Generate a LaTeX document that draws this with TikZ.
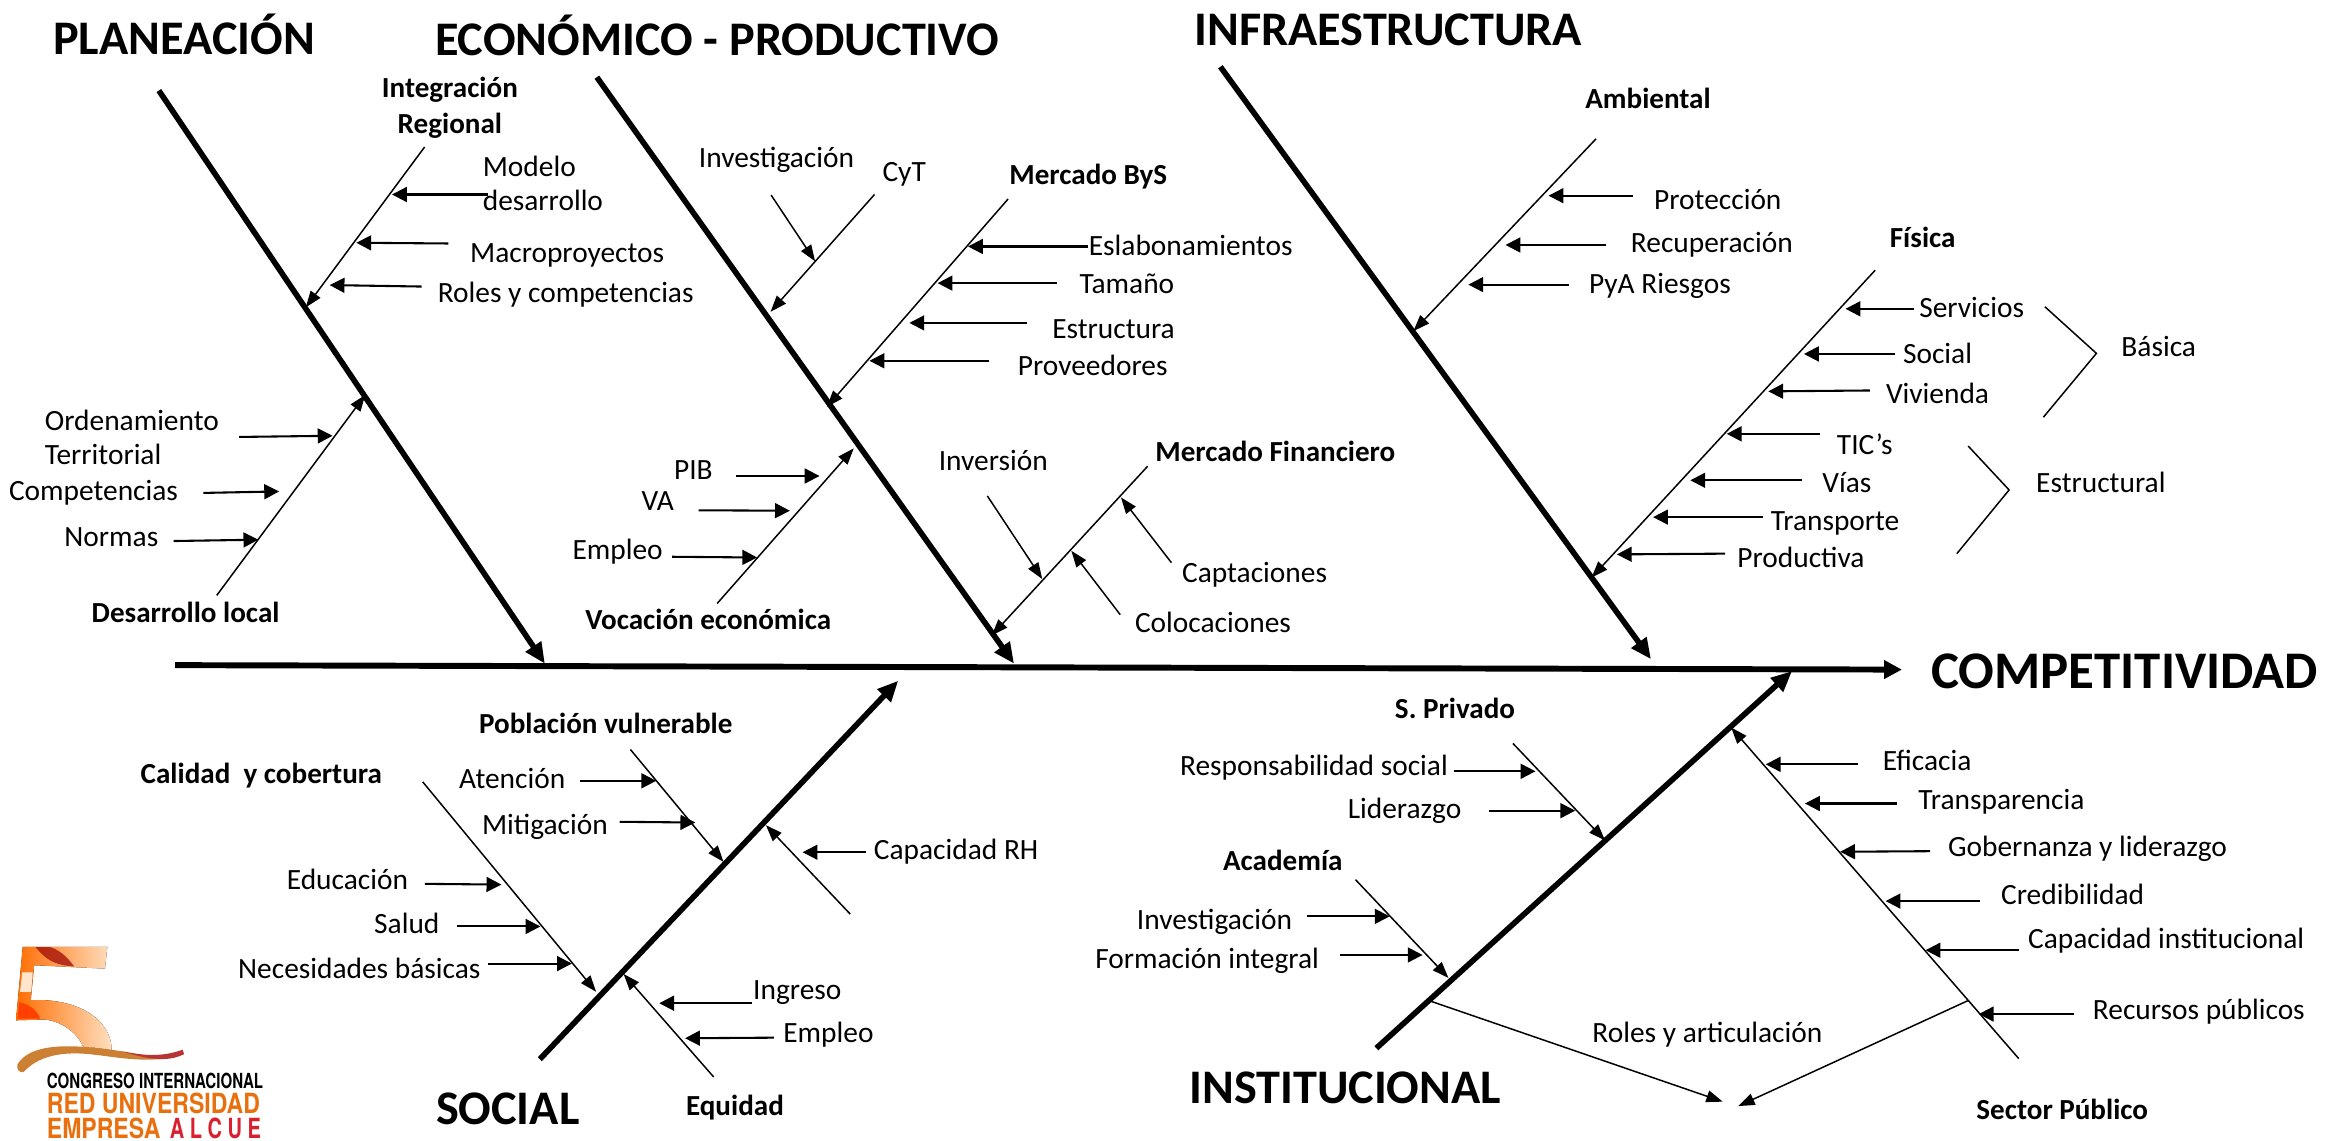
\documentclass[tikz,border=0pt]{standalone}
\usepackage{fontspec}
\setmainfont{Carlito}
\newfontfamily\logofont{TeX Gyre Heros}
\usetikzlibrary{arrows.meta}
\tikzset{
  lbl/.style={inner sep=0pt,text height=16pt,text depth=4pt,font=\fontsize{19.8}{22}\selectfont},
  lblb/.style={lbl,font=\fontsize{19.6}{22}\selectfont\bfseries},
  ttl/.style={inner sep=0pt,text height=22pt,text depth=1pt,font=\fontsize{32.5}{34}\selectfont\bfseries},
  spine/.style={line width=4pt,-{Triangle[length=12pt,width=12pt]}},
  bone/.style={line width=3.8pt,-{Triangle[length=14pt,width=12pt]}},
  rib/.style={line width=1pt,-{Triangle[length=11pt,width=8pt]}},
  twig/.style={line width=1.4pt,-{Triangle[length=10pt,width=10pt]}},
  plain/.style={line width=1pt},
}
\definecolor{logoorange}{HTML}{E8700E}
\definecolor{logored}{HTML}{D9202E}
\begin{document}
\begin{tikzpicture}[x=1pt,y=-1pt]
  \useasboundingbox (0,0) rectangle (1568,768);

  %%Spine
  \node[ttl,font=\fontsize{35.6}{38}\selectfont\bfseries](compet) at (1431,453){COMPETITIVIDAD};
  \path (118,448) coordinate (tail) (1281,451) coordinate (head);
  \draw[spine](tail) to (head);

  %%Planeacion
  \node[ttl](planea) at (124,26){PLANEACIÓN};
  \path (107,61) coordinate (planeA) (367,447) coordinate (planeB);
  \draw[bone](planeA) to (planeB);
  \node[lblb](integ) at (303,60){Integración};
  \node[lblb](regional) at (303,84){Regional};
  \path (286,99) coordinate (integA) (206,207) coordinate (integB);
  \draw[rib](integA) to (integB);
    \node[lbl,anchor=west](modelo) at (325,113){Modelo};
    \node[lbl,anchor=west](desarr) at (325,136){desarrollo};
    \path (329,131) coordinate (modeloA) (264,131) coordinate (modeloB);
    \draw[twig](modeloA) to (modeloB);
    \node[lbl](macro) at (382,171){Macroproyectos};
    \path (302,164) coordinate (macroA) (240,163.5) coordinate (macroB);
    \draw[twig](macroA) to (macroB);
    \node[lbl](roles) at (381,198){Roles y competencias};
    \path (284,193) coordinate (rolesA) (222,192) coordinate (rolesB);
    \draw[twig](rolesA) to (rolesB);
  \node[lblb](dlocal) at (125,413){Desarrollo local};
  \path (146,401) coordinate (dlocalA) (246,266) coordinate (dlocalB);
  \draw[rib](dlocalA) to (dlocalB);
    \node[lbl,anchor=west](orden) at (30,284){Ordenamiento};
    \node[lbl,anchor=west](territ) at (30,307){Territorial};
    \path (161,294.3) coordinate (ordenA) (224,293.5) coordinate (ordenB);
    \draw[twig](ordenA) to (ordenB);
    \node[lbl](compt) at (63,331){Competencias};
    \path (137,332) coordinate (comptA) (188,331) coordinate (comptB);
    \draw[twig](comptA) to (comptB);
    \node[lbl](normas) at (75,362){Normas};
    \path (117,364.4) coordinate (normasA) (174,363.5) coordinate (normasB);
    \draw[twig](normasA) to (normasB);

  %%Economico
  \node[ttl](econ) at (483,27){ECONÓMICO - PRODUCTIVO};
  \path (402,52) coordinate (econA) (683,447) coordinate (econB);
  \draw[bone](econA) to (econB);
  \node[lbl](cyt) at (609,116){CyT};
  \path (589,131) coordinate (cytA) (519,210) coordinate (cytB);
  \draw[rib](cytA) to (cytB);
    \node[lbl](invest) at (523,107){Investigación};
    \path (519.4,131.4) coordinate (investA) (549,176) coordinate (investB);
    \draw[rib](investA) to (investB);
  \node[lblb](byS) at (733,118){Mercado ByS};
  \path (679,134) coordinate (bySA) (557,274) coordinate (bySB);
  \draw[rib](bySA) to (bySB);
    \node[lbl](eslab) at (802,166){Eslabonamientos};
    \path (733,166) coordinate (eslabA) (652,166) coordinate (eslabB);
    \draw[twig](eslabA) to (eslabB);
    \node[lbl](tamano) at (759,192){Tamaño};
    \path (712,190.7) coordinate (tamanoA) (631.5,190.7) coordinate (tamanoB);
    \draw[twig](tamanoA) to (tamanoB);
    \node[lbl](estruc) at (750,222){Estructura};
    \path (692,217.5) coordinate (estrucA) (612.5,217.5) coordinate (estrucB);
    \draw[twig](estrucA) to (estrucB);
    \node[lbl](provee) at (736,247){Proveedores};
    \path (666,243) coordinate (proveeA) (585.6,243) coordinate (proveeB);
    \draw[twig](proveeA) to (proveeB);
  \node[lblb](vocac) at (477,418){Vocación económica};
  \path (483,406.5) coordinate (vocacA) (575,302) coordinate (vocacB);
  \draw[rib](vocacA) to (vocacB);
    \node[lbl](pib) at (467,317){PIB};
    \path (496,320.6) coordinate (pibA) (552,320.6) coordinate (pibB);
    \draw[twig](pibA) to (pibB);
    \node[lbl](va) at (443,338){VA};
    \path (470.6,343.7) coordinate (vaA) (532,344) coordinate (vaB);
    \draw[twig](vaA) to (vaB);
    \node[lbl](empleoA) at (416,371){Empleo};
    \path (452.7,375) coordinate (emplA) (510,375.5) coordinate (emplB);
    \draw[twig](emplA) to (emplB);
  \node[lblb](finan) at (859,305){Mercado Financiero};
  \path (773,314) coordinate (finanA) (668,428) coordinate (finanB);
  \draw[rib](finanA) to (finanB);
    \node[lbl](inver) at (669,311){Inversión};
    \path (665,334) coordinate (inverA) (702,390) coordinate (inverB);
    \draw[rib](inverA) to (inverB);
    \node[lbl](capta) at (845,386){Captaciones};
    \path (789,379) coordinate (captaA) (755,335) coordinate (captaB);
    \draw[rib](captaA) to (captaB);
    \node[lbl](coloc) at (817,420){Colocaciones};
    \path (754.5,414) coordinate (colocA) (721.6,371) coordinate (colocB);
    \draw[rib](colocA) to (colocB);

  %%Infraestructura
  \node[ttl](infra) at (935,20){INFRAESTRUCTURA};
  \path (822,45) coordinate (infraA) (1112,444) coordinate (infraB);
  \draw[bone](infraA) to (infraB);
  \node[lblb](ambie) at (1110,67){Ambiental};
  \path (1075,93.5) coordinate (ambieA) (952,223) coordinate (ambieB);
  \draw[rib](ambieA) to (ambieB);
    \node[lbl](protec) at (1157,135){Protección};
    \path (1100,131.8) coordinate (protecA) (1043,131.8) coordinate (protecB);
    \draw[twig](protecA) to (protecB);
    \node[lbl](recup) at (1153,164){Recuperación};
    \path (1082,165) coordinate (recupA) (1014,165) coordinate (recupB);
    \draw[twig](recupA) to (recupB);
    \node[lbl](riesg) at (1118,192){PyA Riesgos};
    \path (1056.7,191.7) coordinate (riesgA) (989,191.7) coordinate (riesgB);
    \draw[twig](riesgA) to (riesgB);
  \node[lblb](fisica) at (1295,161){Física};
  \path (1263,182) coordinate (fisicaA) (1072,389) coordinate (fisicaB);
  \draw[rib](fisicaA) to (fisicaB);
    \node[lbl](servic) at (1328,208){Servicios};
    \path (1289,208) coordinate (servicA) (1243,208) coordinate (servicB);
    \draw[twig](servicA) to (servicB);
    \node[lbl](social) at (1305,239){Social};
    \path (1276.5,238.4) coordinate (socialA) (1215,238.4) coordinate (socialB);
    \draw[twig](socialA) to (socialB);
    \node[lbl](vivie) at (1305,266){Vivienda};
    \path (1259.4,263) coordinate (vivieA) (1191,263.6) coordinate (vivieB);
    \draw[twig](vivieA) to (vivieB);
    \node[lbl](tics) at (1256,300){TIC’s};
    \path (1225.8,292.2) coordinate (ticsA) (1163,292.2) coordinate (ticsB);
    \draw[twig](ticsA) to (ticsB);
    \node[lbl](vias) at (1244,326){Vías};
    \path (1213.8,323.5) coordinate (viasA) (1138.5,323.5) coordinate (viasB);
    \draw[twig](viasA) to (viasB);
    \node[lbl](transp) at (1236,351){Transporte};
    \path (1187.7,348.3) coordinate (transpA) (1113.4,348.3) coordinate (transpB);
    \draw[twig](transpA) to (transpB);
    \node[lbl](produc) at (1213,376){Productiva};
    \path (1162,372.9) coordinate (producA) (1089,373.4) coordinate (producB);
    \draw[twig](producA) to (producB);
    \node[lbl](basica) at (1454,234){Básica};
    \path (1377.3,206.6) coordinate (basicaA) (1412,238) coordinate (basicaB) (1376.3,281) coordinate (basicaC);
    \draw[plain](basicaA) to (basicaB) to (basicaC);
    \node[lbl](estrl) at (1415,326){Estructural};
    \path (1325.6,300.4) coordinate (estrlA) (1353.2,330) coordinate (estrlB) (1318,372.9) coordinate (estrlC);
    \draw[plain](estrlA) to (estrlB) to (estrlC);

  %%Social
  \node[ttl](socl) at (342,747){SOCIAL};
  \path (363.6,713.4) coordinate (soclA) (605,458.5) coordinate (soclB);
  \draw[bone](soclA) to (soclB);
  \node[lblb](pobla) at (408,488){Población vulnerable};
  \path (424.6,504.8) coordinate (poblaA) (487.3,580.5) coordinate (poblaB);
  \draw[rib](poblaA) to (poblaB);
    \node[lbl](atenc) at (345,525){Atención};
    \path (390.6,525.9) coordinate (atencA) (442,525.9) coordinate (atencB);
    \draw[twig](atencA) to (atencB);
    \node[lbl](mitig) at (367,556){Mitigación};
    \path (417.3,553.5) coordinate (mitigA) (468.3,554) coordinate (mitigB);
    \draw[twig](mitigA) to (mitigB);
  \node[lblb](calid) at (176,522){Calidad\ \ y cobertura};
  \path (284.7,526.6) coordinate (calidA) (401.5,668) coordinate (calidB);
  \draw[rib](calidA) to (calidB);
    \node[lbl](educa) at (234,593){Educación};
    \path (286.2,595.3) coordinate (educaA) (337.7,595.8) coordinate (educaB);
    \draw[twig](educaA) to (educaB);
    \node[lbl](salud) at (274,623){Salud};
    \path (307.9,624) coordinate (saludA) (364,624) coordinate (saludB);
    \draw[twig](saludA) to (saludB);
    \node[lbl](neces) at (242,653){Necesidades básicas};
    \path (328.8,649) coordinate (necesA) (385.2,649) coordinate (necesB);
    \draw[twig](necesA) to (necesB);
  \node[lbl](caprh) at (644,573){Capacidad RH};
  \path (572.7,615.7) coordinate (ribrhA) (515.9,555.8) coordinate (ribrhB);
  \draw[rib](ribrhA) to (ribrhB);
    \path (583.2,574) coordinate (caprhA) (540.6,574) coordinate (caprhB);
    \draw[twig](caprhA) to (caprhB);
  \node[lblb](equid) at (495,745){Equidad};
  \path (480.7,725.4) coordinate (equidA) (420,656) coordinate (equidB);
  \draw[rib](equidA) to (equidB);
    \node[lbl](ingre) at (537,667){Ingreso};
    \path (506.2,675.7) coordinate (ingreA) (444,675.7) coordinate (ingreB);
    \draw[twig](ingreA) to (ingreB);
    \node[lbl](empleoB) at (558,696){Empleo};
    \path (521.3,698.9) coordinate (empl2A) (461.4,699.3) coordinate (empl2B);
    \draw[twig](empl2A) to (empl2B);

  %%Institucional
  \node[ttl](instit) at (906,733){INSTITUCIONAL};
  \path (927,706) coordinate (institA) (1207,452) coordinate (institB);
  \draw[bone](institA) to (institB);
  \node[lblb](priva) at (980,478){S. Privado};
  \path (1019,500.7) coordinate (privaA) (1081,566) coordinate (privaB);
  \draw[rib](privaA) to (privaB);
    \node[lbl](respo) at (885,516){Responsabilidad social};
    \path (979.3,519.5) coordinate (respoA) (1034.2,519.5) coordinate (respoB);
    \draw[twig](respoA) to (respoB);
    \node[lbl](lider) at (946,545){Liderazgo};
    \path (1003,546) coordinate (liderA) (1061,546) coordinate (liderB);
    \draw[twig](liderA) to (liderB);
  \node[lblb](acade) at (864,580){Academía};
  \path (913,592.5) coordinate (acadeA) (975.6,658.7) coordinate (acadeB);
  \draw[rib](acadeA) to (acadeB);
    \node[lbl](inve2) at (818,620){Investigación};
    \path (880.2,617.2) coordinate (inve2A) (936,617.2) coordinate (inve2B);
    \draw[twig](inve2A) to (inve2B);
    \node[lbl](forma) at (813,646){Formación integral};
    \path (902.3,643.2) coordinate (formaA) (958.2,643.2) coordinate (formaB);
    \draw[twig](formaA) to (formaB);
  \node[lblb](publi) at (1389,748){Sector Público};
  \path (1359.7,713) coordinate (publiA) (1166,490) coordinate (publiB);
  \draw[rib](publiA) to (publiB);
    \node[lbl](efica) at (1298,513){Eficacia};
    \path (1251.5,514.8) coordinate (eficaA) (1189.3,514.8) coordinate (eficaB);
    \draw[twig](eficaA) to (eficaB);
    \node[lbl](trans) at (1348,539){Transparencia};
    \path (1278,541.2) coordinate (transA) (1215.7,541.2) coordinate (transB);
    \draw[twig](transA) to (transB);
    \node[lbl](gober) at (1406,571){Gobernanza y liderazgo};
    \path (1300,573.3) coordinate (goberA) (1239.4,573.7) coordinate (goberB);
    \draw[twig](goberA) to (goberB);
    \node[lbl](credi) at (1396,603){Credibilidad};
    \path (1333.8,606.9) coordinate (crediA) (1270,606.9) coordinate (crediB);
    \draw[twig](crediA) to (crediB);
    \node[lbl](capin) at (1459,633){Capacidad institucional};
    \path (1359.7,640) coordinate (capinA) (1296.9,640) coordinate (capinB);
    \draw[twig](capinA) to (capinB);
    \node[lbl](recur) at (1481,681){Recursos públicos};
    \path (1397.1,683) coordinate (recurA) (1332.8,683) coordinate (recurB);
    \draw[twig](recurA) to (recurB);
  \node[lbl](rolar) at (1150,696){Roles y articulación};
  \path (963.5,674.3) coordinate (rolarA) (1160.3,742) coordinate (rolarB);
  \draw[rib](rolarA) to (rolarB);
  \path (1325.4,674) coordinate (rolarC) (1170.8,745) coordinate (rolarD);
  \draw[rib](rolarC) to (rolarD);

  %%Logo
  \fill[left color=orange!85!red,right color=orange!25] (15.3,637.8) to (72.3,637.8) to (70.7,652.4)
    to (23,650.1) to (20.7,673.7) .. controls (50,672) and (75,685) .. (75.2,707.4)
    .. controls (67,706) and (60,705) .. (56,705) .. controls (52,695) and (40,687) .. (29,686.7) to (10.8,687.2) -- cycle;
  \fill[red!60!black,opacity=.7] (24,638) .. controls (30,645) and (35,650) .. (50,651) .. controls (45,644) and (40,640) .. (34,638) -- cycle;
  \fill[orange!20] (15,655) to (22,655) to (21,668) to (13.5,668) -- cycle;
  \fill[orange!50!red] (12,686) to (13,675) .. controls (20,677) and (25,680) .. (27,686) -- cycle;
  \fill[brown!80!orange] (11.7,717) .. controls (20,703) and (45,703) .. (75,707) .. controls (95,710) and (100,712) .. (118,712)
    .. controls (95,716) and (80,712) .. (60,710) .. controls (40,708) and (25,712) .. (16,722) .. controls (13,723) and (11,720) .. (11.7,717) -- cycle;
  \fill[red!65!black!80] (82,708) .. controls (100,712) and (112,711) .. (123,707) to (124,710) .. controls (112,716) and (98,713) .. (82,708) -- cycle;
  \node[inner sep=0pt,anchor=west,text height=10pt,text depth=0pt,font=\logofont\bfseries\fontsize{14}{14}\selectfont](logoA) at (31.4,728){\scalebox{.725}[1]{CONGRESO INTERNACIONAL}};
  \node[inner sep=0pt,anchor=west,text height=13.5pt,text depth=0pt,text=logoorange,font=\logofont\bfseries\fontsize{18.7}{19}\selectfont](logoB) at (31.4,743.3){\scalebox{.83}[1]{RED UNIVERSIDAD}};
  \node[inner sep=0pt,anchor=west,text height=13.5pt,text depth=0pt,text=logoorange,font=\logofont\bfseries\fontsize{18.7}{19}\selectfont](logoC) at (31.4,760){\scalebox{.83}[1]{EMPRESA}};
  \node[inner sep=0pt,anchor=east,text height=13.5pt,text depth=0pt,text=logored,font=\logofont\bfseries\fontsize{18.7}{19}\selectfont](logoD) at (176,760){\scalebox{.72}[1]{A L C U E}};
\end{tikzpicture}
\end{document}
